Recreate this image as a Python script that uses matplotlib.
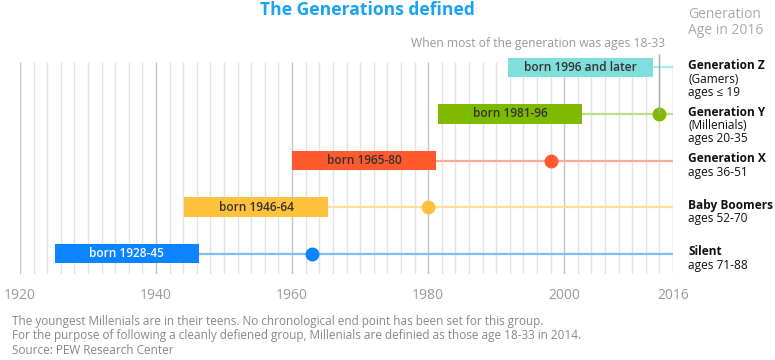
import matplotlib
matplotlib.use("Agg")
import matplotlib.pyplot as plt
import numpy as np

plt.rcParams['font.family'] = ['Open Sans', 'DejaVu Sans']

# rows from bottom to top
generations = ['Silent', 'Baby Boomers', 'Generation X', 'Generation Y', 'Generation Z']
sublabels = [['ages 71-88'], ['ages 52-70'], ['ages 36-51'],
             ['(Millenials)', 'ages 20-35'], ['(Gamers)', 'ages \u2264 19']]
bar_text = ['born 1928-45', 'born 1946-64', 'born 1965-80', 'born 1981-96', 'born 1996 and later']
bar_start = [1925.1, 1944.1, 1960.0, 1981.5, 1991.8]
bar_end = [1946.3, 1965.3, 1981.2, 2002.6, 2013.1]
dot_year = [1963, 1980, 1998, 2014, None]
bar_colors = ['#0a84ff', '#ffc13b', '#ff5a2e', '#7fba00', '#80dfdc']
line_colors = ['#80bcf5', '#ffdf99', '#ffac93', '#bde08a', '#a8ecea']
text_colors = ['white', '#333333', '#333333', '#333333', '#333333']

xticks = [1920, 1940, 1960, 1980, 2000, 2016]
start, end = 1920, 2016

W, H = 775, 360
fig = plt.figure(figsize=(W / 100, H / 100), dpi=100)
ax = fig.add_axes([20 / W, 1 - 274 / H, 653 / W, (274 - 54) / H])
ax.set_xlim(start, end)
ax.set_ylim(-0.44, 4.29)

# grid lines every 2 years
for yr in range(start, end + 1, 2):
    c = '#c4c4c4' if yr % 20 == 0 else '#e2e2e2'
    ax.vlines(yr, -0.44, 4.12, color=c, lw=1, zorder=0)
ax.vlines(end, -0.44, 4.12, color='#e2e2e2', lw=1, zorder=0)

rows = np.arange(len(generations))
for i in rows:
    ax.plot([bar_end[i], end], [i, i], color=line_colors[i], lw=1.6, zorder=1,
            solid_capstyle='butt')
    ax.barh(i, bar_end[i] - bar_start[i], left=bar_start[i], height=0.41,
            color=bar_colors[i], zorder=2)
    ax.text((bar_start[i] + bar_end[i]) / 2, i, bar_text[i], ha='center', va='center',
            color=text_colors[i], fontsize=8.6, fontweight='semibold', zorder=3)
    if dot_year[i] is not None:
        ax.plot(dot_year[i], i, 'o', color=bar_colors[i], ms=9, zorder=3)

    ax.annotate(generations[i], xy=(1.023, i), xycoords=('axes fraction', 'data'),
                xytext=(0, 1.2), textcoords='offset points',
                ha='left', va='center', fontsize=8.6, fontweight='bold', color='#111111',
                annotation_clip=False)
    for j, s in enumerate(sublabels[i]):
        ax.annotate(s, xy=(1.023, i), xycoords=('axes fraction', 'data'),
                    xytext=(0, 1.2 - 9.6 * (j + 1)), textcoords='offset points',
                    ha='left', va='center', fontsize=8.6, color='#111111',
                    annotation_clip=False)

# the 2014 marker line
ax.vlines(2014, 3, 4.29, color='#aaaaaa', lw=1, zorder=4)

ax.set_xticks(xticks)
ax.set_xticklabels([str(t) for t in xticks])
ax.tick_params(axis='x', length=0, pad=10, labelsize=10, labelcolor='#9a9a9a')
ax.set_yticks([])
for sp in ax.spines.values():
    sp.set_visible(False)

fig.text(367 / W, 1 - 10 / H, 'The Generations defined', ha='center', va='center',
         fontsize=12.6, fontweight='bold', color='#1aa3f0')
fig.text(688 / W, 1 - 14 / H, 'Generation', ha='left', va='center', fontsize=10, color='#aaaaaa')
fig.text(688 / W, 1 - 30 / H, 'Age in 2016', ha='left', va='center', fontsize=10, color='#aaaaaa')
fig.text(665 / W, 1 - 43 / H, 'When most of the generation was ages 18-33', ha='right',
         va='center', fontsize=8.7, color='#999999')

notes = ['The youngest Millenials are in their teens. No chronological end point has been set for this group.',
         'For the purpose of following a cleanly defiened group, Millenials are definied as those age 18-33 in 2014.',
         'Source: PEW Research Center']
for k, s in enumerate(notes):
    fig.text(12 / W, 1 - (321 + 15 * k) / H, s, ha='left', va='center', fontsize=8.5, color='#888888')

fig.savefig('out.png', dpi=100)
